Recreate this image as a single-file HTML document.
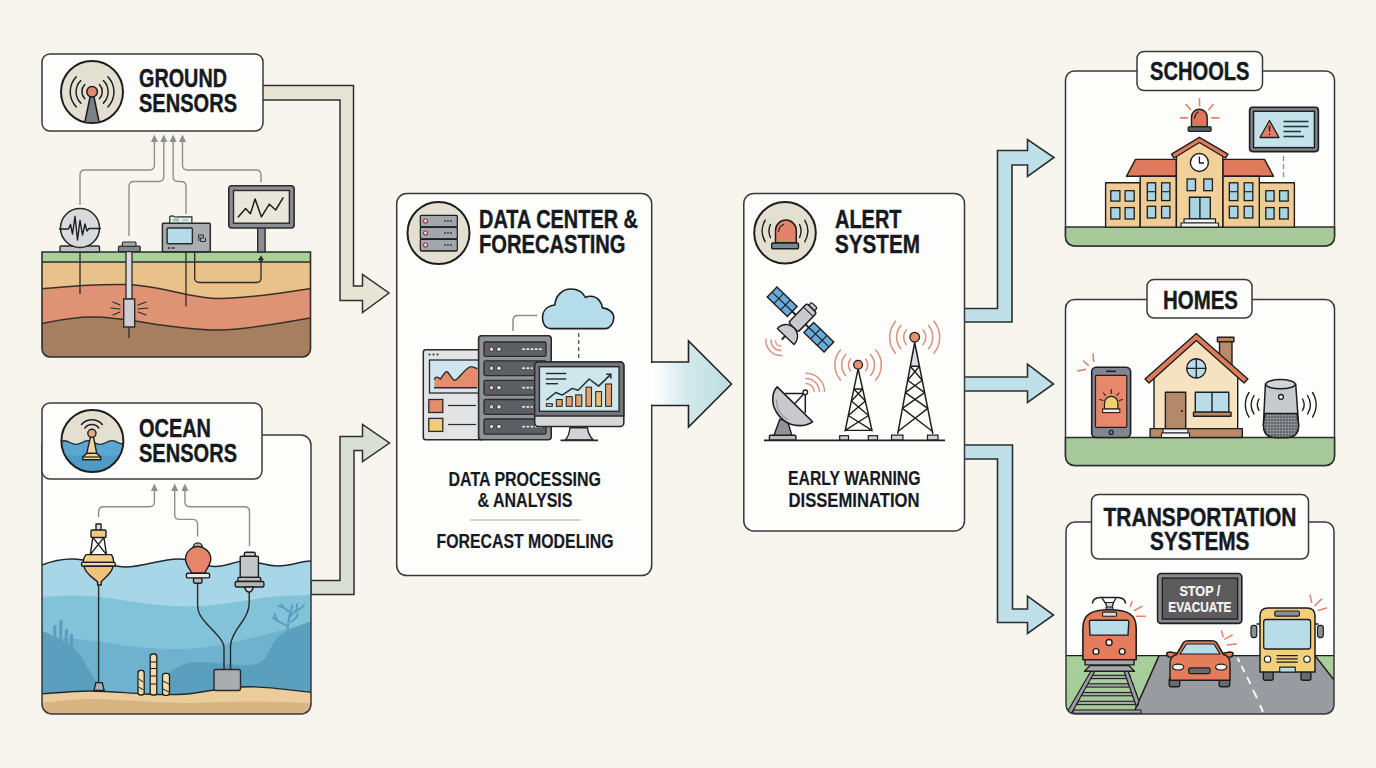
<!DOCTYPE html>
<html><head><meta charset="utf-8">
<style>
html,body{margin:0;padding:0;background:#f8f5ee;width:1376px;height:768px;overflow:hidden}
svg{display:block}
text{font-family:"Liberation Sans",sans-serif;font-weight:bold;fill:#16191d;stroke:#16191d;stroke-width:0.4px;paint-order:stroke}
text.sub{stroke-width:0.15px}
</style></head>
<body>
<svg width="1376" height="768" viewBox="0 0 1376 768">
<rect x="0" y="0" width="1376" height="768" fill="#f8f5ee"/>

<!-- ============ ARROWS ============ -->
<g id="arrows" stroke-linejoin="miter">
  <!-- ground -> data center -->
  <path d="M262,85.5 H353.5 V286 H362.5 V274.5 L389,293 L362.5,312.5 V300.5 H340 V100 H262 Z" fill="#e7e4d6" stroke="#2f2f2f" stroke-width="1.5"/>
  <!-- ocean -> data center -->
  <path d="M311,580.5 H340 V436.5 H362.5 V424.5 L389.5,443 L362.5,461.5 V450.5 H354 V594.5 H311 Z" fill="#d9ded7" stroke="#2f2f2f" stroke-width="1.5"/>
  <!-- alert -> schools -->
  <path d="M964,308.5 H997.5 V150.5 H1027.5 V139.5 L1054,157.5 L1027.5,176.5 V165 H1012 V322 H964 Z" fill="#bfe0e8" stroke="#2a2f33" stroke-width="1.6"/>
  <!-- alert -> homes -->
  <path d="M964,377 H1027.5 V364 L1053.5,384 L1027.5,402.5 V391 H964 Z" fill="#bfe0e8" stroke="#2a2f33" stroke-width="1.6"/>
  <!-- alert -> transport -->
  <path d="M964,445 H1012.5 V609 H1027.5 V596 L1053.5,615 L1027.5,633.5 V622.5 H997.5 V459 H964 Z" fill="#bfe0e8" stroke="#2a2f33" stroke-width="1.6"/>
</g>

<!-- ============ GROUND SENSORS ============ -->
<g id="ground">
  <rect x="42" y="54" width="221" height="77" rx="8" fill="#fdfdfb" stroke="#383838" stroke-width="1.5"/>
  <g id="gicon">
    <defs><clipPath id="cpG"><circle cx="92" cy="92" r="30"/></clipPath></defs>
    <circle cx="92" cy="92" r="31" fill="#e4e0d1"/>
    <path d="M90.3,96 L93.8,96 L99.5,124 L84.5,124 Z" fill="#7c8088" stroke="#1e1e1e" stroke-width="1.6" clip-path="url(#cpG)"/>
    <circle cx="92.1" cy="91.7" r="5.3" fill="#e28a70" stroke="#1e1e1e" stroke-width="1.5"/>
    <g fill="none" stroke="#1e1e1e" stroke-width="1.5" stroke-linecap="round">
      <path d="M84.8,84.6 A10.2,10.2 0 0 0 84.8,98.8"/>
      <path d="M80.8,80.5 A15.9,15.9 0 0 0 80.8,103.1"/>
      <path d="M76.3,76.7 A21.8,21.8 0 0 0 76.3,106.9"/>
      <path d="M99.4,84.6 A10.2,10.2 0 0 1 99.4,98.8"/>
      <path d="M103.4,80.5 A15.9,15.9 0 0 1 103.4,103.1"/>
      <path d="M107.9,76.7 A21.8,21.8 0 0 1 107.9,106.9"/>
    </g>
    <circle cx="92" cy="92" r="31" fill="none" stroke="#1e1e1e" stroke-width="2"/>
  </g>
  <text x="139" y="87" font-size="25.4" textLength="88" lengthAdjust="spacingAndGlyphs">GROUND</text>
  <text x="139" y="112.3" font-size="25.4" textLength="98" lengthAdjust="spacingAndGlyphs">SENSORS</text>

  <!-- ground illustration -->
  <g id="gill">
    <defs><clipPath id="cpGround"><path d="M42,252 H310.5 V349 A8,8 0 0 1 302.5,357 H50 A8,8 0 0 1 42,349 Z"/></clipPath></defs>
    <g clip-path="url(#cpGround)">
      <rect x="40" y="250" width="275" height="110" fill="#a67f60"/>
      <path d="M40,262 H315 V317.5 C 290,321 250,330 218,330 C 170,330 130,317 92,317 C 70,317 55,321 40,324 Z" fill="#de9474"/>
      <path d="M40,262 H315 V288 C 280,293 250,298.5 220,298.5 C 190,298.5 160,285 125,284.5 C 90,284 60,287 40,289 Z" fill="#e9c28b"/>
      <path d="M40,317.5 M 315,317.5 C 290,321 250,330 218,330 C 170,330 130,317 92,317 C 70,317 55,321 40,324" fill="none" stroke="#3a3028" stroke-width="1.5"/>
      <path d="M315,288 C 280,293 250,298.5 220,298.5 C 190,298.5 160,285 125,284.5 C 90,284 60,287 40,289" fill="none" stroke="#3a3028" stroke-width="1.5"/>
      <rect x="40" y="252" width="275" height="10" fill="#a8d09a"/>
      <line x1="40" y1="262" x2="315" y2="262" stroke="#2c2c2c" stroke-width="1.5"/>
    </g>
    <path d="M42,252 H310.5 V349 A8,8 0 0 1 302.5,357 H50 A8,8 0 0 1 42,349 Z" fill="none" stroke="#2c2c2c" stroke-width="1.6"/>
    <!-- underground lines -->
    <g stroke="#2a2a2a" stroke-width="1.3" fill="none">
      <line x1="80" y1="252" x2="80" y2="294"/>
      <line x1="186" y1="251" x2="186" y2="306.5"/>
      <path d="M194.7,251 V278 Q194.7,282.5 199.5,282.5 H256.5 Q261,282.5 261,278 V259"/>
      <line x1="129" y1="327" x2="129" y2="338"/>
    </g>
    <path d="M258,260 L261,255.5 L264,260 Z M259.5,259.5 H262.5 V262 H259.5 Z" fill="#2a2a2a"/>
    <!-- seismometer -->
    <rect x="60" y="246" width="39.5" height="6" rx="1" fill="#bfc2c7" stroke="#2a2a2a" stroke-width="1.4"/>
    <circle cx="80" cy="228" r="19.5" fill="#d9dadd" stroke="#2a2a2a" stroke-width="1.6"/>
    <path d="M59,229 H68.5 L70.5,224.5 L72.5,234 L75,216.5 L77.5,240 L80,220.5 L82.5,235 L85,224 L87,231 L89,228.5 H101" fill="none" stroke="#1e1e1e" stroke-width="1.4" stroke-linejoin="round"/>
    <!-- borehole -->
    <rect x="126" y="251" width="6" height="48" fill="#d9dbde" stroke="#2a2a2a" stroke-width="1.3"/>
    <rect x="123.7" y="299" width="11" height="28" fill="#c9ccd0" stroke="#2a2a2a" stroke-width="1.4"/>
    <rect x="118.5" y="246.2" width="21.7" height="5.4" rx="1" fill="#84888e" stroke="#2a2a2a" stroke-width="1.3"/>
    <rect x="122.3" y="242" width="13.7" height="4.2" rx="1" fill="#a3a7ac" stroke="#2a2a2a" stroke-width="1.1"/>
    <g stroke="#2a2a2a" stroke-width="1.2" stroke-linecap="round">
      <line x1="113" y1="302" x2="120" y2="305"/><line x1="111" y1="308" x2="120" y2="309"/><line x1="113" y1="315" x2="120" y2="312"/>
      <line x1="138" y1="305" x2="146" y2="302"/><line x1="138" y1="309" x2="148" y2="308"/><line x1="138" y1="312" x2="146" y2="315"/>
    </g>
    <!-- data logger -->
    <path d="M169.8,223.2 V216.5 Q172,215.3 174,216.5 Q176,217.5 178,216.8 H191.9 V223.2" fill="#e3efe9" stroke="#2a2a2a" stroke-width="1.2"/>
    <rect x="173" y="218.5" width="6" height="3" fill="#8fc7b8"/>
    <rect x="182" y="218.5" width="6" height="3" fill="#b8d8cc"/>
    <rect x="162.4" y="223.2" width="47.9" height="28.5" rx="1" fill="#a9acb1" stroke="#2a2a2a" stroke-width="1.5"/>
    <rect x="167.1" y="228" width="25.3" height="15.8" rx="1" fill="#b5dbe6" stroke="#2a2a2a" stroke-width="1.4"/>
    <path d="M198.5,235 h5 v3 h-5 z M200.5,238 v3.5 h5 v-3.5 M197.5,240 h3" fill="none" stroke="#2a2a2a" stroke-width="1"/>
    <path d="M168,248 h2.5 M172,248 h2.5" stroke="#2a2a2a" stroke-width="1.3"/>
    <!-- monitor -->
    <rect x="257.7" y="227" width="7.4" height="25" fill="#8b8e93" stroke="#2a2a2a" stroke-width="1.4"/>
    <rect x="228.8" y="185.8" width="65.3" height="42.2" rx="3" fill="#8a8d92" stroke="#2a2a2a" stroke-width="1.6"/>
    <rect x="233.5" y="190.5" width="55.9" height="32.7" fill="#ebe6da" stroke="#2a2a2a" stroke-width="1.4"/>
    <path d="M238.2,216.9 L245.6,208.5 L250.4,213.7 L255.1,199 L261.4,216.9 L269.3,204.2 L275.7,210 L283,197.9" fill="none" stroke="#1e1e1e" stroke-width="1.5" stroke-linejoin="round" stroke-linecap="round"/>
    <!-- grey flow lines -->
    <g fill="none" stroke="#8e8e8a" stroke-width="1.4">
      <path d="M80,205 V175 Q80,170 85,170 H149.4 Q154.4,170 154.4,165 V140"/>
      <path d="M129,236 V186.5 Q129,181.5 134,181.5 H158.8 Q163.8,181.5 163.8,176.5 V140"/>
      <path d="M186,214 V186.5 Q186,181.5 181,181.5 H178.1 Q173.1,181.5 173.1,176.5 V140"/>
      <path d="M261,182.5 V175 Q261,170 256,170 H187.5 Q182.5,170 182.5,165 V140"/>
    </g>
    <g fill="#8e8e8a">
      <path d="M150.9,142 L154.4,134.5 L157.9,142 Z"/>
      <path d="M160.3,142 L163.8,134.5 L167.3,142 Z"/>
      <path d="M169.6,142 L173.1,134.5 L176.6,142 Z"/>
      <path d="M179,142 L182.5,134.5 L186,142 Z"/>
    </g>
  </g>
</g>

<!-- ============ OCEAN SENSORS ============ -->
<g id="ocean">
  <rect x="42" y="435" width="269" height="279" rx="10" fill="#fdfdfb"/>
  <!-- ocean illustration -->
  <g id="oill">
    <defs><clipPath id="cpOcean"><path d="M42,540 H311 V706 A8,8 0 0 1 303,714 H50 A8,8 0 0 1 42,706 Z"/></clipPath></defs>
    <g clip-path="url(#cpOcean)">
      <!-- light water -->
      <path d="M40,565 C 52,561 62,559 72,559 C 90,559 105,566 125,567 C 145,567 160,559 178,559 C 195,559 205,567 215,566.5 C 228,566 235,561 245,561 C 258,561 265,566 278,566 C 292,566 300,561 313,561 V720 H40 Z" fill="#a6d6e7"/>
      <!-- mid water -->
      <path d="M40,597 C 60,596 80,595 95,596.5 C 115,598 150,606 185,606.4 C 215,606.5 245,600 270,597 C 285,595.5 300,595 313,595 V720 H40 Z" fill="#82c3da"/>
      <!-- lower water -->
      <path d="M40,636 C 60,637 90,640 120,645 C 150,649 180,650 200,648 C 225,645 250,638 275,632 C 290,628 300,626 313,624 V720 H40 Z" fill="#6fb2cd"/>
      <!-- hills -->
      <path d="M40,631 C 48,632 56,638 66,643 C 75,648 80,654 84,661 C 88,669 95,680 104,690 L40,700 Z" fill="#5b9fbf"/>
      <path d="M168,673 C 178,666 188,662 197,662 C 210,662 225,664 240,665 C 252,666 260,664 266,657 C 270,650 273,640 282,634 C 292,628 302,624 313,621 V700 H168 Z" fill="#5b9fbf"/>
      <!-- kelp -->
      <g stroke="#5b9fbf" stroke-width="3.3" stroke-linecap="round" fill="none">
        <line x1="54.8" y1="626.5" x2="54.8" y2="645"/>
        <line x1="61" y1="621.5" x2="60.5" y2="648"/>
        <line x1="66.6" y1="630.5" x2="65.6" y2="650"/>
        <line x1="71.5" y1="635.5" x2="71.5" y2="652"/>
      </g>
      <!-- coral right -->
      <g stroke="#5b9fbf" stroke-width="2" stroke-linecap="round" stroke-linejoin="round" fill="none">
        <path d="M287.5,632 C 288,624 289,614 292.5,605.5"/>
        <path d="M289,618 C 291.5,614 295,611 299,609.5 C 301,608 303,607 304,605"/>
        <path d="M296.5,611.5 L297,604.5"/>
        <path d="M290.5,612 C 286,610 283,608 281.5,604.5"/>
        <path d="M282.5,607 L278.5,606"/>
        <path d="M287.5,626 C 283,623 278,622 273,617.5"/>
        <path d="M277.5,621 C 276.5,619 275.5,617 274.5,614"/>
        <path d="M291,622 C 294,620 297,618 298,614"/>
      </g>
      <!-- sand -->
      <path d="M40,694 C 60,692.5 75,691 89,691 C 110,691 125,693 145,694 C 165,695 180,695.5 195,693 C 215,690 235,686.5 252,686.8 C 270,687 290,690 313,692.5 V720 H40 Z" fill="#eacd9b" stroke="#1f2a30" stroke-width="1.4"/>
      <path d="M40,703 C 60,701 75,699 89,699 C 120,699 160,703 185,703 C 210,703 230,701.5 252,701.5 C 275,701.5 295,703 313,703 V720 H40 Z" fill="#d7b484"/>
    </g>
    <!-- pipes -->
    <g stroke="#1e1e1e" stroke-width="1.3">
      <rect x="138" y="670.4" width="6.2" height="24.6" rx="2.5" fill="#efdcaa"/>
      <rect x="150.2" y="654" width="6.6" height="41" rx="2.5" fill="#efdcaa"/>
      <rect x="162.5" y="673.3" width="7" height="22" rx="2.5" fill="#efdcaa"/>
      <path d="M138.5,679 L143.5,682 M138.5,687 L143.5,690 M150.7,662 H156.3 M150.7,668.5 H156.3 M150.7,676 H156.3 M150.7,684 H156.3 M163,681 L169,684 M163,689 L169,692" fill="none" stroke-width="1"/>
    </g>
    <!-- anchors / cables -->
    <path d="M95.8,682.7 L102.3,682.7 L104.2,690.5 L94,690.5 Z" fill="#a9acb1" stroke="#1e1e1e" stroke-width="1.3"/>
    <line x1="98.6" y1="585" x2="98.6" y2="683" stroke="#2a2a2a" stroke-width="1.4"/>
    <rect x="214" y="669.5" width="26.5" height="21" rx="2" fill="#a9acb1" stroke="#2a2a2a" stroke-width="1.4"/>
    <path d="M197.6,583 V605 C 197.6,612 200,616 206,623 C 214,632 224,640 224,648 V669.5" fill="none" stroke="#2a2a2a" stroke-width="1.4"/>
    <path d="M249.2,592 V603 C 249.2,610 247,615 242,622 C 236,630 230.5,638 230.5,646 V669.5" fill="none" stroke="#2a2a2a" stroke-width="1.4"/>
    <!-- surface line -->
    <path d="M42,565 C 52,561 62,559 72,559 C 90,559 105,566 125,567 C 145,567 160,559 178,559 C 195,559 205,567 215,566.5 C 228,566 235,561 245,561 C 258,561 265,566 278,566 C 292,566 300,561 311,561" fill="none" stroke="#1f2a30" stroke-width="1.5"/>
    <!-- yellow buoy -->
    <g stroke="#1e1e1e" stroke-width="1.4" stroke-linejoin="round">
      <rect x="96" y="524" width="5" height="6.5" fill="#e4e4e4"/>
      <path d="M92.8,537.4 L90.3,554.6 M103.9,537.4 L106.5,554.6 M92.8,537.4 L106.5,554.6 M103.9,537.4 L90.3,554.6" fill="none"/>
      <rect x="91" y="530" width="15" height="7.5" rx="1" fill="#f0c980"/>
      <path d="M86,554.6 H111.5 Q113.8,558 113.8,562.4 H83 Q83,558 86,554.6 Z" fill="#f2cf8c"/>
      <rect x="81.5" y="562.4" width="33.8" height="3.8" rx="1.5" fill="#f3d9b0"/>
      <path d="M84,566.2 H113 C 112,574 104,578 101.2,582 V585 H97.6 V582 C 94,578 85,574 84,566.2 Z" fill="#f2c27c"/>
    </g>
    <!-- red buoy -->
    <g stroke="#1e1e1e" stroke-width="1.4" stroke-linejoin="round">
      <path d="M193.2,547.5 A4.6,4.6 0 0 1 202.4,547.5 Z" fill="#b7b9bd"/>
      <path d="M197.8,546.5 C 204,546.5 210.8,552 210.8,559 C 210.8,565 206,569 204.6,573.3 H191.9 C 190,569 185.5,565 185.5,559 C 185.5,552 191.5,546.5 197.8,546.5 Z" fill="#e7856a"/>
      <rect x="193.5" y="577.8" width="8.5" height="5.5" rx="2" fill="#b7b9bd"/>
      <rect x="186.4" y="573.3" width="23.2" height="4.6" rx="1.5" fill="#e9e9e9"/>
    </g>
    <!-- grey sensor -->
    <g stroke="#1e1e1e" stroke-width="1.4" stroke-linejoin="round">
      <rect x="244.3" y="552.3" width="10.9" height="4.5" rx="1.5" fill="#c9cacd"/>
      <rect x="240.2" y="556.2" width="18.2" height="21.2" rx="1" fill="#c5c6c9"/>
      <rect x="237.9" y="577.4" width="22.8" height="4.1" rx="1" fill="#bdbec1"/>
      <rect x="235.2" y="581.5" width="28.7" height="5.5" rx="1.5" fill="#b5b6b9"/>
      <path d="M244.5,587 H253.5 Q252,592 249,592 Q246,592 244.5,587 Z" fill="#d4d5d8"/>
    </g>
    <!-- grey flow lines -->
    <g fill="none" stroke="#8e8e8a" stroke-width="1.4">
      <path d="M98.6,517 V511.7 Q98.6,506.7 103.6,506.7 H149.4 Q154.4,506.7 154.4,501.7 V489"/>
      <path d="M197.6,536.4 V524.4 Q197.6,519.4 192.6,519.4 H179.7 Q174.7,519.4 174.7,514.4 V489"/>
      <path d="M249.5,546 V511.7 Q249.5,506.7 244.5,506.7 H189.9 Q184.9,506.7 184.9,501.7 V489"/>
    </g>
    <g fill="#8e8e8a">
      <path d="M150.9,491 L154.4,483.5 L157.9,491 Z"/>
      <path d="M171.2,491 L174.7,483.5 L178.2,491 Z"/>
      <path d="M181.4,491 L184.9,483.5 L188.4,491 Z"/>
    </g>
  </g>
  <rect x="42" y="435" width="269" height="279" rx="10" fill="none" stroke="#383838" stroke-width="1.5"/>
  <rect x="42" y="403" width="220" height="76" rx="8" fill="#fdfdfb" stroke="#383838" stroke-width="1.5"/>
  <g id="oicon">
    <defs><clipPath id="cpO"><circle cx="92.4" cy="441" r="30.5"/></clipPath></defs>
    <circle cx="92.4" cy="441" r="31" fill="#e4e0d1"/>
    <g clip-path="url(#cpO)">
      <path d="M58,443 C 62,440 66,440 70,442.5 C 74,445 78,445 82,442.5 C 86,440 90,440 94,442.5 C 98,445 102,445 106,442.5 C 110,440 114,440 118,442.5 C 121,444.5 124,444 127,442 V475 H58 Z" fill="#5aa8d2" stroke="#1e2a33" stroke-width="1.4"/>
      <rect x="58" y="455.5" width="70" height="20" fill="#4f9bc7"/>
    </g>
    <g stroke="#1e1e1e" stroke-width="1.4" stroke-linejoin="round">
      <path d="M90.4,437.4 H93.6 L96.7,453.4 H86.7 Z" fill="#f1d39e"/>
      <path d="M86.7,453.4 H96.7 L100.8,457 V459.8 H82.6 V457 Z" fill="#f1d39e"/>
      <line x1="83" y1="457" x2="100.5" y2="457" stroke-width="1.2"/>
      <circle cx="91.9" cy="433.3" r="4.1" fill="#e9a88e"/>
    </g>
    <g fill="none" stroke="#1e1e1e" stroke-width="1.5" stroke-linecap="round">
      <path d="M85,428 A8.6,8.6 0 0 1 98.8,428"/>
      <path d="M81.5,424.5 A13.6,13.6 0 0 1 102.3,424.5"/>
    </g>
    <circle cx="92.4" cy="441" r="31" fill="none" stroke="#1e1e1e" stroke-width="2"/>
  </g>
  <text x="139" y="436.5" font-size="25.4" textLength="72" lengthAdjust="spacingAndGlyphs">OCEAN</text>
  <text x="139" y="461.8" font-size="25.4" textLength="98" lengthAdjust="spacingAndGlyphs">SENSORS</text>
</g>

<!-- ============ DATA CENTER ============ -->
<g id="dc">
  <rect x="396.7" y="193.6" width="255" height="382" rx="10" fill="#fdfdfc" stroke="#383838" stroke-width="1.5"/>
  <g id="dcicon">
    <circle cx="438.5" cy="233" r="31" fill="#e4e0d1" stroke="#1e1e1e" stroke-width="2"/>
    <rect x="420" y="215" width="37.5" height="36.5" rx="1.5" fill="#2e3236"/>
    <g fill="#a2a7ad" stroke="#1e1e1e" stroke-width="1.2">
      <rect x="420.3" y="215.3" width="37" height="11.5" rx="1"/>
      <rect x="420.3" y="227.3" width="37" height="11.5" rx="1"/>
      <rect x="420.3" y="239.3" width="37" height="11.5" rx="1"/>
    </g>
    <g fill="#f3e5e6" stroke="#9a3048" stroke-width="1.1">
      <circle cx="425.5" cy="221" r="2"/><circle cx="425.5" cy="233" r="2"/><circle cx="425.5" cy="245" r="2"/>
    </g>
    <g fill="#2e3236">
      <circle cx="445" cy="221" r="0.9"/><circle cx="448" cy="221" r="0.9"/><circle cx="451" cy="221" r="0.9"/>
      <circle cx="445" cy="233" r="0.9"/><circle cx="448" cy="233" r="0.9"/><circle cx="451" cy="233" r="0.9"/>
      <circle cx="445" cy="245" r="0.9"/><circle cx="448" cy="245" r="0.9"/><circle cx="451" cy="245" r="0.9"/>
    </g>
  </g>
  <g id="dcill">
    <!-- connector lines -->
    <path d="M513,331 V320.5 Q513,315.5 518,315.5 H537.5" fill="none" stroke="#8f8f8f" stroke-width="1.5"/>
    <line x1="578.7" y1="333" x2="578.7" y2="358" stroke="#555" stroke-width="1.3" stroke-dasharray="4,3"/>
    <!-- cloud -->
    <path d="M551,328.65 C 545,328.65 542.5,323 542.5,317.8 C 542.5,311 547,306 554.8,305 C 555.5,296 562,289 570.9,289 C 578,289 583,292.5 585.5,297.5 C 587,296.5 589,296.2 590.7,296.2 C 597,296.2 601.5,301.5 602.5,307.9 C 609,308.5 613.8,312.5 613.8,317.8 C 613.8,324 609,328.65 605.8,328.65 Z" fill="#b5dcea" stroke="#1e1e1e" stroke-width="1.6" stroke-linejoin="round"/>
    <!-- dashboard -->
    <rect x="423.3" y="349.7" width="60" height="90" rx="2.5" fill="#e2e3e5" stroke="#2a2a2a" stroke-width="1.5"/>
    <g fill="#2a2a2a"><circle cx="429.5" cy="354.5" r="1"/><circle cx="433.5" cy="354.5" r="1"/><circle cx="437.5" cy="354.5" r="1"/></g>
    <rect x="429.5" y="360" width="50" height="33" fill="#cfe6ee" stroke="#2a2a2a" stroke-width="1.3"/>
    <path d="M434.4,387.8 V379.6 C 434.6,377 437,376.8 438.5,377.6 C 439.5,378.2 440,379 440.5,379 C 442,377 444.5,371.7 446.7,371.7 C 449,371.7 452,380.3 454.9,380.3 C 458,380.3 466,366.6 471.3,366.6 C 473,366.6 474.5,368 477.5,368.7 V387.8 Z" fill="#e48c6c"/><path d="M434.4,379.6 C 434.6,377 437,376.8 438.5,377.6 C 439.5,378.2 440,379 440.5,379 C 442,377 444.5,371.7 446.7,371.7 C 449,371.7 452,380.3 454.9,380.3 C 458,380.3 466,366.6 471.3,366.6 C 473,366.6 474.5,368 477.5,368.7" fill="none" stroke="#2a2a2a" stroke-width="1.4" stroke-linejoin="round"/><line x1="434" y1="387.8" x2="477" y2="387.8" stroke="#2a2a2a" stroke-width="1.6"/>
    <rect x="428.8" y="399.5" width="14" height="13" fill="#e48c6c" stroke="#2a2a2a" stroke-width="1.3"/>
    <rect x="428.8" y="418.4" width="14" height="13" fill="#f0cd78" stroke="#2a2a2a" stroke-width="1.3"/>
    <line x1="448" y1="405.5" x2="476" y2="405.5" stroke="#2a2a2a" stroke-width="1.2"/>
    <line x1="448" y1="424.5" x2="476" y2="424.5" stroke="#2a2a2a" stroke-width="1.2"/>
    <!-- server tower -->
    <rect x="478.6" y="335.8" width="72.6" height="104" rx="3" fill="#8f9297" stroke="#2a2a2a" stroke-width="1.6"/>
    <g fill="#5c6065" stroke="#2a2a2a" stroke-width="1.3">
      <rect x="484" y="342" width="62" height="14.4" rx="1.5"/>
      <rect x="484" y="360.8" width="62" height="14.8" rx="1.5"/>
      <rect x="484" y="380.3" width="62" height="14.8" rx="1.5"/>
      <rect x="484" y="399.5" width="62" height="14.8" rx="1.5"/>
      <rect x="484" y="419" width="62" height="15.2" rx="1.5"/>
    </g>
    <g fill="#e6c9bf" stroke="#2a2a2a" stroke-width="0.9">
      <circle cx="491.5" cy="349.2" r="2.3"/><circle cx="499" cy="349.2" r="2.3" fill="#efe9cf"/>
      <circle cx="491.5" cy="368.2" r="2.3"/><circle cx="499" cy="368.2" r="2.3" fill="#efe9cf"/>
      <circle cx="491.5" cy="387.7" r="2.3"/><circle cx="499" cy="387.7" r="2.3" fill="#efe9cf"/>
      <circle cx="491.5" cy="406.9" r="2.3"/><circle cx="499" cy="406.9" r="2.3" fill="#efe9cf"/>
      <circle cx="491.5" cy="426.6" r="2.3"/><circle cx="499" cy="426.6" r="2.3" fill="#efe9cf"/>
    </g>
    <g stroke="#e8e8e8" stroke-width="1.8" stroke-linecap="round" stroke-dasharray="1.2,3">
      <line x1="523" y1="349.2" x2="542" y2="349.2"/>
      <line x1="523" y1="368.2" x2="532" y2="368.2"/>
      <line x1="523" y1="387.7" x2="532" y2="387.7"/>
      <line x1="523" y1="406.9" x2="532" y2="406.9"/>
      <line x1="523" y1="426.6" x2="542" y2="426.6"/>
    </g>
    <!-- monitor -->
    <path d="M569.9,427.7 H587.4 C 588,433 590,437 593.3,440 H565.2 C 568,437 569.5,433 569.9,427.7 Z" fill="#d2d3d6" stroke="#2a2a2a" stroke-width="1.4" stroke-linejoin="round"/>
    <line x1="560.5" y1="440.3" x2="598" y2="440.3" stroke="#2a2a2a" stroke-width="1.7"/>
    <rect x="534.7" y="362" width="89.1" height="64.5" rx="3.5" fill="#d7d8da" stroke="#2a2a2a" stroke-width="1.6"/>
    <path d="M534.7,416 V365.5 A3.5,3.5 0 0 1 538.2,362 H620.3 A3.5,3.5 0 0 1 623.8,365.5 V416 Z" fill="#73777c" stroke="#2a2a2a" stroke-width="1.4"/>
    <rect x="539.4" y="366.7" width="79.7" height="44.6" fill="#cde7ed" stroke="#2a2a2a" stroke-width="1.4"/>
    <g stroke="#2a2a2a" stroke-width="1.4"><line x1="545.8" y1="373.5" x2="566.3" y2="373.5"/><line x1="545.8" y1="379" x2="566.3" y2="379"/><line x1="545.8" y1="383.7" x2="558" y2="383.7"/></g>
    <g fill="#e8a16c" stroke="#2a2a2a" stroke-width="1.1">
      <rect x="546.4" y="403.7" width="5.9" height="2.6" fill="#e8d2c0"/>
      <rect x="556.4" y="399.5" width="5.8" height="6.8"/>
      <rect x="566.3" y="396.6" width="5.9" height="9.7"/>
      <rect x="575.7" y="394.9" width="6.1" height="11.4"/>
      <rect x="586" y="387.2" width="5.5" height="19.1"/>
      <rect x="595.7" y="391.6" width="5.8" height="14.7" fill="#ecc079"/>
      <rect x="605.6" y="384" width="5.9" height="22.3"/>
    </g>
    <path d="M546.4,400.1 L555.8,392.5 L562.2,395.1 L572.2,388.4 L578.1,390.2 L589.2,379 L598.6,386.1 L610.3,374.9" fill="none" stroke="#2a2a2a" stroke-width="1.5" stroke-linejoin="round"/>
    <path d="M606.2,374.3 H610.9 V378.6" fill="none" stroke="#2a2a2a" stroke-width="1.5"/>
  </g>
  <text x="479" y="228" font-size="25.4" textLength="159" lengthAdjust="spacingAndGlyphs">DATA CENTER &amp;</text>
  <text x="479" y="252.5" font-size="25.4" textLength="146.5" lengthAdjust="spacingAndGlyphs">FORECASTING</text>
  <text class="sub" x="448.5" y="485.5" font-size="20" textLength="152.5" lengthAdjust="spacingAndGlyphs">DATA PROCESSING</text>
  <text class="sub" x="477.5" y="506.5" font-size="20" textLength="95" lengthAdjust="spacingAndGlyphs">&amp; ANALYSIS</text>
  <line x1="469.5" y1="520" x2="581" y2="520" stroke="#c4c4c2" stroke-width="1.3"/>
  <text class="sub" x="436.5" y="548" font-size="20" textLength="177" lengthAdjust="spacingAndGlyphs">FORECAST MODELING</text>
</g>

  <!-- data center -> alert -->
  <defs>
    <linearGradient id="gDC" x1="651" y1="0" x2="731" y2="0" gradientUnits="userSpaceOnUse">
      <stop offset="0" stop-color="#ffffff"/>
      <stop offset="0.12" stop-color="#f6fbfb"/>
      <stop offset="0.45" stop-color="#d3e9eb"/>
      <stop offset="1" stop-color="#bcdde1"/>
    </linearGradient>
  </defs>
  <path d="M650,362.8 H688.5 V341 L731.5,384 L688.5,427 V404.8 H650 Z" fill="url(#gDC)" stroke="none"/>
  <path d="M651,362 H688.5 V341 L731.5,384 L688.5,427 V405.5 H651" fill="none" stroke="#1f2326" stroke-width="1.6"/>
<!-- ============ ALERT ============ -->
<g id="alert">
  <rect x="743.8" y="193.4" width="220.7" height="337.6" rx="10" fill="#fdfdfc" stroke="#383838" stroke-width="1.5"/>
  <g id="alicon">
    <circle cx="785" cy="232.8" r="30.8" fill="#e4e0d1" stroke="#1e1e1e" stroke-width="2"/>
    <path d="M775.5,242.7 V230.5 A10.4,10.4 0 0 1 796.3,230.5 V242.7 Z" fill="#e2826a" stroke="#1e1e1e" stroke-width="1.5"/>
    <path d="M778.5,231.5 Q779.5,226 783.5,224.5" fill="none" stroke="#1e1e1e" stroke-width="1.1" stroke-linecap="round"/>
    <rect x="771.7" y="243" width="26.8" height="5.7" rx="1" fill="#7d8693" stroke="#1e1e1e" stroke-width="1.4"/>
    <g fill="none" stroke="#1e1e1e" stroke-width="1.4" stroke-linecap="round">
      <path d="M770.4,224.5 A16,16 0 0 0 770.4,237.5"/>
      <path d="M765.2,220.2 A21.5,21.5 0 0 0 765.2,241.8"/>
      <path d="M799.6,224.5 A16,16 0 0 1 799.6,237.5"/>
      <path d="M804.8,220.2 A21.5,21.5 0 0 1 804.8,241.8"/>
    </g>
  </g>
  <g id="alill">
    <!-- satellite -->
    <g transform="translate(800.5,319.5) rotate(44)">
      <g fill="#6aaad8" stroke="#1e1e1e" stroke-width="1.4">
        <rect x="-39.5" y="-7" width="28" height="14"/>
        <rect x="11.5" y="-7" width="28" height="14"/>
      </g>
      <g stroke="#1e1e1e" stroke-width="1.1" fill="none">
        <path d="M-30.2,-7 V7 M-20.9,-7 V7 M-39.5,0 H-11.5"/>
        <path d="M20.8,-7 V7 M30.1,-7 V7 M11.5,0 H39.5"/>
        <path d="M-11.5,0 H-6.5 M7,0 H11.5" stroke-width="2"/>
      </g>
      <rect x="-4" y="-20" width="8" height="5" rx="1.5" fill="#c9cacd" stroke="#1e1e1e" stroke-width="1.3"/>
      <rect x="-6.6" y="-16" width="13.6" height="26.5" rx="2.5" fill="#c9cacd" stroke="#1e1e1e" stroke-width="1.5"/>
      <line x1="-6" y1="-11" x2="6.5" y2="-11" stroke="#1e1e1e" stroke-width="1"/>
      <line x1="0.5" y1="22" x2="0.5" y2="27.5" stroke="#1e1e1e" stroke-width="2"/>
      <path d="M-10.5,22.5 C -10,13 -3,10.5 1,10.5 C 5,10.5 12.5,13 12.6,22.5 Z" fill="#cacbce" stroke="#1e1e1e" stroke-width="1.4" stroke-linejoin="round"/>
    </g>
    <g fill="none" stroke="#d9907e" stroke-width="1.4" stroke-linecap="round">
      <path d="M775.5,341 A5.2,5.2 0 0 0 780.5,346"/>
      <path d="M771,340 A10,10 0 0 0 781,350.5"/>
      <path d="M766,339 A15,15 0 0 0 782,355.5"/>
    </g>
    <!-- dish antenna -->
    <rect x="769.4" y="435.3" width="26.5" height="5" rx="1" fill="#b9bcc0" stroke="#1e1e1e" stroke-width="1.4"/>
    <path d="M779.8,419.2 L787.6,421.2 L791.8,435.3 H774 Z" fill="#8f9297" stroke="#1e1e1e" stroke-width="1.4" stroke-linejoin="round"/>
    <g fill="none" stroke="#1e1e1e" stroke-width="1.5">
      <path d="M785,393.6 H805 M805.3,392.3 V413 M805.3,392.3 L794.4,404"/>
    </g>
    <path d="M777.2,386.9 L812.6,421.8 C 806,426 798,426.5 790,424 C 780,420 771,408 773,396 C 773.5,392 775,389 777.2,386.9 Z" fill="#c8c9cc" stroke="#1e1e1e" stroke-width="1.6" stroke-linejoin="round"/>
    <path d="M776.5,400 C 776.5,410 781,416 788,419.5" fill="none" stroke="#9a9ca0" stroke-width="1.2" stroke-linecap="round"/>
    <circle cx="805.3" cy="392.3" r="2.3" fill="#fff" stroke="#1e1e1e" stroke-width="1.3"/>
    <g fill="none" stroke="#d9907e" stroke-width="1.4" stroke-linecap="round">
      <path d="M806,383.5 A8.5,8.5 0 0 1 814.2,391.5"/>
      <path d="M806,378.5 A13.3,13.3 0 0 1 819.3,391.5"/>
      <path d="M806,373.3 A18.5,18.5 0 0 1 824.5,391.5"/>
    </g>
    <!-- small tower -->
    <g fill="none" stroke="#1e1e1e" stroke-width="1.5" stroke-linejoin="round">
      <path d="M858.1,368.9 L845,431.3 M858.1,368.9 L872.2,431.3"/>
      <path d="M853.9,389.0 L865.4,401.0 M862.6,389.0 L851.4,401.0 M851.4,401.0 L868.6,415.5 M865.4,401.0 L848.3,415.5 M848.3,415.5 L872.0,430.4 M868.6,415.5 L845.2,430.4 M853.9,389.0 H862.6 M845.2,430.4 H872.0" stroke-width="1.4"/>
    </g>
    <g fill="#d0d2d5" stroke="#1e1e1e" stroke-width="1.2">
      <rect x="839.7" y="435.7" width="8.8" height="4.5"/>
      <rect x="868.3" y="435.7" width="9.2" height="4.5"/>
    </g>
    <circle cx="858.1" cy="364.8" r="4.4" fill="#e8906e" stroke="#1e1e1e" stroke-width="1.3"/>
    <!-- tall tower -->
    <path d="M914.7,342.5 L910.3,366.2 H919.4 Z" fill="#dcdde0"/>
    <g fill="none" stroke="#1e1e1e" stroke-width="1.5" stroke-linejoin="round">
      <path d="M914.7,342.5 L897.7,433.9 M914.7,342.5 L932.8,433.9"/>
      <path d="M910.3,366.2 L922.2,380.3 M919.4,366.2 L907.7,380.3 M907.7,380.3 L924.6,392.6 M922.2,380.3 L905.4,392.6 M905.4,392.6 L927.8,408.4 M924.6,392.6 L902.4,408.4 M902.4,408.4 L932.3,431.3 M927.8,408.4 L898.2,431.3 M910.3,366.2 H919.4" stroke-width="1.4"/>
    </g>
    <g fill="#d0d2d5" stroke="#1e1e1e" stroke-width="1.2">
      <rect x="891.5" y="435.1" width="11.5" height="5"/>
      <rect x="927.5" y="435.1" width="10.5" height="5"/>
    </g>
    <circle cx="914.7" cy="337.2" r="4.8" fill="#e8906e" stroke="#1e1e1e" stroke-width="1.3"/>
    <g fill="none" stroke="#d9907e" stroke-width="1.5" stroke-linecap="round">
      <path d="M850.6,359 A9.6,9.6 0 0 0 850.6,371"/>
      <path d="M845.7,354.5 A15.8,15.8 0 0 0 845.7,375.5"/>
      <path d="M840.5,350 A22.8,22.8 0 0 0 840.5,380"/>
      <path d="M865.6,359 A9.6,9.6 0 0 1 865.6,371"/>
      <path d="M870.5,354.5 A15.8,15.8 0 0 1 870.5,375.5"/>
      <path d="M875.7,350 A22.8,22.8 0 0 1 875.7,380"/>
      <path d="M906.3,330 A11,11 0 0 0 906.3,344.4"/>
      <path d="M900.9,325.6 A18,18 0 0 0 900.9,348.8"/>
      <path d="M895.5,321.2 A25,25 0 0 0 895.5,353.2"/>
      <path d="M923.1,330 A11,11 0 0 1 923.1,344.4"/>
      <path d="M928.5,325.6 A18,18 0 0 1 928.5,348.8"/>
      <path d="M933.9,321.2 A25,25 0 0 1 933.9,353.2"/>
    </g>
  </g>
  <text x="835" y="228" font-size="25.4" textLength="66.5" lengthAdjust="spacingAndGlyphs">ALERT</text>
  <text x="835" y="253" font-size="25.4" textLength="85" lengthAdjust="spacingAndGlyphs">SYSTEM</text>
  <line x1="764" y1="440.4" x2="945" y2="440.4" stroke="#1e1e1e" stroke-width="1.8"/>
  <text class="sub" x="788" y="485.2" font-size="20" textLength="132.5" lengthAdjust="spacingAndGlyphs">EARLY WARNING</text>
  <text class="sub" x="788.5" y="506.5" font-size="20" textLength="131" lengthAdjust="spacingAndGlyphs">DISSEMINATION</text>
</g>

<!-- ============ SCHOOLS ============ -->
<g id="schools">
  <rect x="1065.5" y="71" width="269" height="175" rx="9" fill="#fdfdfc" stroke="#383838" stroke-width="1.5"/>
  <path d="M1065.5,227 H1334.5 V237 A9,9 0 0 1 1325.5,246 H1074.5 A9,9 0 0 1 1065.5,237 Z" fill="#a8ca9a" stroke="#2a2f2c" stroke-width="1.5"/>

  <g id="schill">
    <!-- siren -->
    <g stroke="#e0836c" stroke-width="1.6" stroke-linecap="round">
      <line x1="1199.5" y1="98.7" x2="1199.5" y2="105.5"/>
      <line x1="1186.1" y1="104.5" x2="1190.4" y2="109.6"/>
      <line x1="1213.2" y1="104.5" x2="1208.9" y2="109.6"/>
      <line x1="1180.4" y1="117.9" x2="1187.4" y2="117.9"/>
      <line x1="1211.8" y1="117.9" x2="1218.8" y2="117.9"/>
    </g>
    <path d="M1191.5,126.8 V117 A7.85,7.85 0 0 1 1207.2,117 V126.8 Z" fill="#e0755a" stroke="#1e1e1e" stroke-width="1.4"/>
    <path d="M1194.5,118.5 Q1195,113.5 1198.5,112" fill="none" stroke="#1e1e1e" stroke-width="1.1" stroke-linecap="round"/>
    <rect x="1188.2" y="126.8" width="22.9" height="4.5" rx="1" fill="#5c6066" stroke="#1e1e1e" stroke-width="1.3"/>
    <!-- warning screen -->
    <line x1="1283.5" y1="156" x2="1283.5" y2="178" stroke="#8a8a8a" stroke-width="1.3" stroke-dasharray="5,3"/>
    <rect x="1249.6" y="107.3" width="68.8" height="44.3" rx="3" fill="#7b8187" stroke="#1e1e1e" stroke-width="1.6"/>
    <rect x="1253.6" y="111.3" width="60.8" height="36.3" fill="#c3e2ea" stroke="#1e1e1e" stroke-width="1.4"/>
    <path d="M1269.5,120.5 L1279,137.5 H1260 Z" fill="#e0806a" stroke="#1e1e1e" stroke-width="1.3" stroke-linejoin="round"/>
    <line x1="1269.5" y1="125.5" x2="1269.5" y2="131.5" stroke="#1e1e1e" stroke-width="1.5"/>
    <circle cx="1269.5" cy="134.3" r="0.9" fill="#1e1e1e"/>
    <g stroke="#1f3a44" stroke-width="1.6"><line x1="1283.5" y1="121.5" x2="1308.5" y2="121.5"/><line x1="1283.5" y1="126.5" x2="1308.5" y2="126.5"/><line x1="1283.5" y1="131.5" x2="1301" y2="131.5"/><line x1="1283.5" y1="136.5" x2="1304" y2="136.5"/></g>
    <!-- building -->
    <g stroke="#1e1e1e" stroke-width="1.4" stroke-linejoin="round">
      <rect x="1105.6" y="182.8" width="34.6" height="44.3" fill="#f0cc95"/>
      <rect x="1259.3" y="182.8" width="35.1" height="44.3" fill="#f0cc95"/>
      <path d="M1126.4,176.3 L1135.5,159.4 H1176.4 V176.3 Z" fill="#e07a5d"/>
      <path d="M1273.6,176.3 L1264.5,159.4 H1222.8 V176.3 Z" fill="#e07a5d"/>
      <rect x="1140.2" y="176.3" width="36.2" height="50.8" fill="#f0cc95"/>
      <rect x="1222.8" y="176.3" width="36.5" height="50.8" fill="#f0cc95"/>
      <path d="M1176.4,227.1 V152 L1199.4,141 L1222.8,152 V227.1 Z" fill="#f2d09c"/>
      <path d="M1171.5,154.2 L1199.4,137.3 L1228,154.2 L1225.5,158 L1199.4,142.5 L1174,158 Z" fill="#e07a5d"/>
      <circle cx="1199.4" cy="162.5" r="9" fill="#ffffff"/>
      <path d="M1199.4,156.5 V163 H1204" fill="none" stroke-width="1.3"/>
      <rect x="1189.5" y="197.2" width="20.8" height="21.6" fill="#a9d4e3"/>
      <line x1="1199.9" y1="197.2" x2="1199.9" y2="218.8"/>
      <rect x="1184" y="218.8" width="31.5" height="4.2" fill="#f3f3f3" stroke-width="1.2"/>
      <rect x="1181" y="223" width="37.5" height="4.1" fill="#f3f3f3" stroke-width="1.2"/>
    </g>
    <g fill="#a9d4e3" stroke="#1e1e1e" stroke-width="1.3">
      <rect x="1110.8" y="190.7" width="9.1" height="10.4"/><rect x="1125.1" y="190.7" width="9.1" height="10.4"/>
      <rect x="1110.8" y="207.6" width="9.1" height="11.4"/><rect x="1125.1" y="207.6" width="9.1" height="11.4"/>
      <rect x="1265.8" y="190.7" width="8.3" height="10.4"/><rect x="1279.6" y="190.7" width="8.6" height="10.4"/>
      <rect x="1265.8" y="207.6" width="8.3" height="11.4"/><rect x="1279.6" y="207.6" width="8.6" height="11.4"/>
      <rect x="1147.3" y="182.8" width="8.3" height="17.8"/><rect x="1161.6" y="182.8" width="8.3" height="17.8"/>
      <rect x="1147.3" y="206.3" width="8.3" height="11.7"/><rect x="1161.6" y="206.3" width="8.3" height="11.7"/>
      <rect x="1229.3" y="182.8" width="8.6" height="17.8"/><rect x="1244.2" y="182.8" width="8.6" height="17.8"/>
      <rect x="1229.3" y="206.3" width="8.6" height="11.7"/><rect x="1244.2" y="206.3" width="8.6" height="11.7"/>
      <rect x="1187.1" y="179" width="8.4" height="11.7"/><rect x="1203.8" y="179" width="8.6" height="11.7"/>
    </g>
    <g stroke="#1e1e1e" stroke-width="1.1">
      <line x1="1147.3" y1="191.7" x2="1155.6" y2="191.7"/><line x1="1161.6" y1="191.7" x2="1169.9" y2="191.7"/>
      <line x1="1229.3" y1="191.7" x2="1237.9" y2="191.7"/><line x1="1244.2" y1="191.7" x2="1252.8" y2="191.7"/>
    </g>
  </g>
  <rect x="1137" y="51.5" width="125.5" height="39" rx="7" fill="#fdfdfc" stroke="#383838" stroke-width="1.5"/>
  <text x="1150" y="79.9" font-size="26" textLength="99.5" lengthAdjust="spacingAndGlyphs">SCHOOLS</text>
</g>

<!-- ============ HOMES ============ -->
<g id="homes">
  <rect x="1065.5" y="299.5" width="269" height="166" rx="9" fill="#fdfdfc" stroke="#383838" stroke-width="1.5"/>
  <path d="M1065.5,437.5 H1334.5 V456.5 A9,9 0 0 1 1325.5,465.5 H1074.5 A9,9 0 0 1 1065.5,456.5 Z" fill="#a8ca9a" stroke="#2a2f2c" stroke-width="1.5"/>

  <g id="homeill">
    <!-- phone -->
    <g stroke="#e0836c" stroke-width="1.6" stroke-linecap="round">
      <line x1="1077.8" y1="371" x2="1085.4" y2="369.4"/>
      <line x1="1083.5" y1="361" x2="1088.4" y2="365.3"/>
      <line x1="1093" y1="354" x2="1093.8" y2="361.3"/>
    </g>
    <rect x="1091.7" y="367.2" width="38.9" height="70.3" rx="4.5" fill="#7f8690" stroke="#1e1e1e" stroke-width="1.6"/>
    <rect x="1095.5" y="375.3" width="31.3" height="52" rx="1" fill="#e8886a" stroke="#1e1e1e" stroke-width="1.2"/>
    <line x1="1106" y1="371.3" x2="1116" y2="371.3" stroke="#1e1e1e" stroke-width="1.5"/>
    <circle cx="1111.2" cy="432.4" r="2" fill="none" stroke="#1e1e1e" stroke-width="1.2"/>
    <path d="M1104.5,409 V403 A6.7,6.7 0 0 1 1117.9,403 V409 Z" fill="#f3cf70" stroke="#1e1e1e" stroke-width="1.2"/>
    <rect x="1102.6" y="409" width="17.2" height="3.6" fill="#f2eee6" stroke="#1e1e1e" stroke-width="1.1"/>
    <g stroke="#1e1e1e" stroke-width="1.1" stroke-linecap="round">
      <line x1="1111.2" y1="389.5" x2="1111.2" y2="393.5"/>
      <line x1="1103.5" y1="393" x2="1105.5" y2="395.5"/>
      <line x1="1118.9" y1="393" x2="1116.9" y2="395.5"/>
      <line x1="1100" y1="399.5" x2="1103" y2="400.5"/>
      <line x1="1122.4" y1="399.5" x2="1119.4" y2="400.5"/>
    </g>
    <!-- house -->
    <g stroke="#1e1e1e" stroke-width="1.4" stroke-linejoin="round">
      <path d="M1219.5,358.8 V341 H1232 V371 Z" fill="#b98a68"/>
      <rect x="1217.4" y="337.2" width="16.5" height="4.5" fill="#b98a68"/>
      <path d="M1154,428.6 V376 L1196.3,338 L1237.7,376 V428.6 Z" fill="#f4e2c0"/>
      <path d="M1145,379 L1196.3,333.4 L1247.9,379 L1244,383 L1196.3,340.5 L1149,383 Z" fill="#e07a5d"/>
      <circle cx="1196.3" cy="368.4" r="9.6" fill="#b8dcea"/>
      <path d="M1186.7,368.4 H1205.9 M1196.3,358.8 V378" fill="none" stroke-width="1.3"/>
      <rect x="1165.4" y="392.3" width="20.3" height="36.3" fill="#b3896a"/>
      <rect x="1195.3" y="392.3" width="33.5" height="19.8" fill="#b8dcea"/>
      <line x1="1212" y1="392.3" x2="1212" y2="412.1"/>
      <rect x="1193.5" y="412.1" width="37.5" height="4.2" fill="#b98a68"/>
      <rect x="1150.1" y="428.6" width="92.2" height="8.9" fill="#b98a68"/>
      <rect x="1163" y="429" width="25" height="4" fill="#f3f3f3" stroke-width="1.1"/>
      <rect x="1161.5" y="433" width="28" height="4.5" fill="#f3f3f3" stroke-width="1.1"/>
    </g>
    <circle cx="1182" cy="411" r="1.1" fill="#1e1e1e"/>
    <!-- speaker -->
    <path d="M1265.4,384.2 L1263.4,424.7 Q1263.4,437.4 1275,437.4 H1287 Q1298.6,437.4 1298.6,424.7 L1295.7,384.2 Z" fill="#c9cacd" stroke="#1e1e1e" stroke-width="1.5"/>
    <defs>
      <pattern id="mesh" x="0" y="0" width="3" height="3" patternUnits="userSpaceOnUse">
        <rect width="3" height="3" fill="#696c71"/><circle cx="1.5" cy="1.5" r="0.85" fill="#aeb0b4"/>
      </pattern>
    </defs>
    <path d="M1264.8,413.5 H1297 L1298.6,424.7 Q1298.6,437.4 1287,437.4 H1275 Q1263.4,437.4 1263.4,424.7 Z" fill="url(#mesh)" stroke="#1e1e1e" stroke-width="1.5"/>
    <ellipse cx="1280.5" cy="384.2" rx="14.6" ry="4.6" fill="#d4d5d8" stroke="#1e1e1e" stroke-width="1.5"/>
    <circle cx="1281" cy="396.9" r="2.4" fill="#f5f5f5" stroke="#1e1e1e" stroke-width="1.3"/>
    <g fill="none" stroke="#1e1e1e" stroke-width="1.4" stroke-linecap="round">
      <path d="M1259,399 A11.5,11.5 0 0 0 1259,410.5"/>
      <path d="M1254,395.5 A17.5,17.5 0 0 0 1254,414"/>
      <path d="M1249,392.5 A22.5,22.5 0 0 0 1249,417"/>
      <path d="M1302.5,399 A11.5,11.5 0 0 1 1302.5,410.5"/>
      <path d="M1307.5,395.5 A17.5,17.5 0 0 1 1307.5,414"/>
      <path d="M1312.5,392.5 A22.5,22.5 0 0 1 1312.5,417"/>
    </g>
  </g>
  <rect x="1147" y="279.5" width="105" height="38.5" rx="7" fill="#fdfdfc" stroke="#383838" stroke-width="1.5"/>
  <text x="1163" y="308.5" font-size="26" textLength="75" lengthAdjust="spacingAndGlyphs">HOMES</text>
</g>

<!-- ============ TRANSPORT ============ -->
<g id="transport">
  <rect x="1066" y="522" width="268" height="192" rx="9" fill="#fdfdfc"/>

  <g id="transill">
    <defs><clipPath id="cpT"><path d="M1066,600 H1334 V705 A9,9 0 0 1 1325,714 H1075 A9,9 0 0 1 1066,705 Z"/></clipPath>
      <linearGradient id="gGreen" x1="0" y1="655" x2="0" y2="714" gradientUnits="userSpaceOnUse">
        <stop offset="0" stop-color="#a9d09b"/><stop offset="1" stop-color="#a4ca96"/>
      </linearGradient>
    </defs>
    <g clip-path="url(#cpT)">
      <rect x="1060" y="655.6" width="280" height="65" fill="url(#gGreen)"/>
      <path d="M1159.1,655.6 H1315 L1340,687.7 V720 H1130.5 Z" fill="#989ca1"/>
      <path d="M1159.1,655.6 L1130.5,720 M1315,655.6 L1340,687.7" fill="none" stroke="#1e1e1e" stroke-width="1.5"/>
      <line x1="1060" y1="655.6" x2="1340" y2="655.6" stroke="#1e1e1e" stroke-width="1.4"/>
      <!-- ties -->
      <g fill="#a4a8ad" stroke="#1e1e1e" stroke-width="1.1">
        <rect x="1089" y="675.3" width="41" height="3.3"/>
        <rect x="1085.5" y="683.8" width="47.5" height="3.3"/>
        <rect x="1082" y="692.5" width="54" height="3.3"/>
        <rect x="1077.5" y="701.3" width="61" height="3.3"/>
        <rect x="1073" y="710" width="68" height="3.3"/>
      </g>
      <!-- rails -->
      <g fill="#9a9ea3" stroke="#1e1e1e" stroke-width="1.2" stroke-linejoin="round">
        <path d="M1091,671 L1095,671 L1070,716 L1065,716 Z"/>
        <path d="M1124,671 L1128,671 L1139,701 L1136.5,707 Z"/>
      </g>
      <!-- center dashes -->
      <g stroke="#f5f5f5" stroke-width="2" stroke-linecap="butt">
        <line x1="1237.5" y1="658" x2="1239.5" y2="662"/>
        <line x1="1241.5" y1="666" x2="1244.5" y2="672"/>
        <line x1="1247" y1="677" x2="1250.5" y2="684"/>
        <line x1="1253" y1="690" x2="1257" y2="698"/>
        <line x1="1260" y1="705" x2="1263" y2="712"/>
      </g>
    </g>
    <!-- train -->
    <g stroke="#1e1e1e" stroke-width="1.4" stroke-linejoin="round">
      <path d="M1092.5,603 Q1093,598 1100,597.5 H1118 Q1125,598 1125.5,603" fill="none" stroke-width="1.5" stroke-linecap="round"/>
      <path d="M1102,597.8 L1107.5,606.5 M1116,597.8 L1111.5,606.5" fill="none" stroke-width="1.3"/>
      <path d="M1105.5,602.5 H1113.5 L1112,607.5 H1107 Z" fill="#d4d6d9" stroke-width="1.2"/>
      <rect x="1106" y="607" width="7" height="3" fill="#9a9ea3" stroke-width="1"/>
      <path d="M1090.2,665.5 H1128.8 L1134.5,671.2 H1084.5 Z" fill="#a4a8ad"/>
      <rect x="1085" y="658.9" width="49" height="6" fill="#a4a8ad"/>
      <path d="M1082.9,659.7 V628 C 1082.9,614 1092,609.7 1109.5,609.7 C 1127,609.7 1136.2,614 1136.2,628 V659.7 Z" fill="#e47b5b" stroke-width="1.6"/>
      <rect x="1102.5" y="612.1" width="14" height="4.1" rx="1" fill="#d9dadc" stroke-width="1.1"/>
      <path d="M1089.4,622 Q1089.4,620.3 1091,620.3 H1127 Q1128.8,620.3 1128.8,622 L1128,635.1 H1090 Z" fill="#b8dde8"/>
      <circle cx="1109.1" cy="642.5" r="3" fill="#ffffff"/>
      <circle cx="1096" cy="651.5" r="2.9" fill="#ffffff"/>
      <circle cx="1122.2" cy="651.5" r="2.9" fill="#ffffff"/>
    </g>
    <g stroke="#e0836c" stroke-width="1.5" stroke-linecap="round">
      <line x1="1130.4" y1="606.4" x2="1132.1" y2="601.5"/>
      <line x1="1134.5" y1="610.5" x2="1141.9" y2="606.4"/>
      <line x1="1136.2" y1="616.2" x2="1145.2" y2="616.2"/>
      <line x1="1221.5" y1="631" x2="1223.1" y2="636.7"/>
      <line x1="1224.8" y1="639.2" x2="1232.2" y2="635.1"/>
      <line x1="1227.2" y1="645" x2="1236.3" y2="644.1"/>
      <line x1="1310" y1="594.9" x2="1311.7" y2="602.3"/>
      <line x1="1315" y1="605.6" x2="1321.6" y2="599"/>
      <line x1="1318.3" y1="610.5" x2="1326.5" y2="608"/>
    </g>
    <!-- sign -->
    <rect x="1157.6" y="573.5" width="84.2" height="49.9" rx="3.5" fill="#848a90" stroke="#1e1e1e" stroke-width="1.6"/>
    <rect x="1162.3" y="578.1" width="75.3" height="41" fill="#5d5b5b" stroke="#1e1e1e" stroke-width="1.3"/>
    <text x="1179.4" y="596" font-size="14.6" textLength="41" lengthAdjust="spacingAndGlyphs" style="fill:#f6f6f6;stroke:#f6f6f6;stroke-width:0.2px">STOP /</text>
    <text x="1168.3" y="612" font-size="14.6" textLength="63.2" lengthAdjust="spacingAndGlyphs" style="fill:#f6f6f6;stroke:#f6f6f6;stroke-width:0.2px">EVACUATE</text>
    <!-- car -->
    <g stroke="#1e1e1e" stroke-width="1.4" stroke-linejoin="round">
      <rect x="1169.2" y="678" width="10.5" height="8.8" rx="2" fill="#676b70"/>
      <rect x="1219.2" y="678" width="10.5" height="8.8" rx="2" fill="#676b70"/>
      <path d="M1166.8,653 Q1167,652 1170,652 L1178,653.5 L1178,657.5 L1169,657 Q1166.5,656 1166.8,653 Z" fill="#e47b5b"/>
      <path d="M1233,653 Q1232.8,652 1229.8,652 L1221.8,653.5 L1221.8,657.5 L1230.8,657 Q1233.3,656 1233,653 Z" fill="#e47b5b"/>
      <path d="M1170,680.2 V664 Q1170,656 1176.5,654.5 L1183.5,642.5 Q1185,640.8 1188,640.8 H1212 Q1215,640.8 1216.5,642.5 L1223.5,654.5 Q1230,656 1230,664 V680.2 Z" fill="#e47b5b" stroke-width="1.5"/>
      <path d="M1180,654 L1186.5,644 H1214 L1220,654 Z" fill="#b8dde8" stroke-width="1.2"/>
      <ellipse cx="1178.2" cy="667.1" rx="5.6" ry="2.9" fill="#f3f3f3" stroke-width="1.2"/>
      <ellipse cx="1221.2" cy="667.1" rx="5.6" ry="2.9" fill="#f3f3f3" stroke-width="1.2"/>
      <rect x="1188.7" y="667.9" width="21.3" height="5.7" rx="1.5" fill="#676b70" stroke-width="1.2"/>
    </g>
    <!-- bus -->
    <g stroke="#1e1e1e" stroke-width="1.4" stroke-linejoin="round">
      <rect x="1263.3" y="671" width="9.9" height="9.2" rx="2" fill="#676b70"/>
      <rect x="1301" y="671" width="9.9" height="9.2" rx="2" fill="#676b70"/>
      <path d="M1260,672 V616 Q1260,608 1268,608 H1307 Q1315,608 1315,616 V672 Z" fill="#f3cf7b" stroke-width="1.5"/>
      <path d="M1260,624 H1256.5 M1315,624 H1318.5" fill="none" stroke-width="1.3"/>
      <rect x="1251" y="625.3" width="5.8" height="12.3" rx="2.5" fill="#8c8f94" stroke-width="1.2"/>
      <rect x="1317.5" y="625.3" width="5.8" height="12.3" rx="2.5" fill="#8c8f94" stroke-width="1.2"/>
      <rect x="1274.8" y="611" width="24.6" height="5.2" rx="1.5" fill="#8c8f94" stroke-width="1.2"/>
      <rect x="1263.7" y="619.5" width="46.9" height="29.5" rx="2.5" fill="#b8dde8" stroke-width="1.3"/>
      <circle cx="1267.6" cy="659.2" r="3.2" fill="#ffffff" stroke-width="1.2"/>
      <circle cx="1307" cy="659.2" r="3.2" fill="#ffffff" stroke-width="1.2"/>
      <path d="M1276.5,655.6 H1297.8 M1276.5,658.9 H1297.8 M1276.5,662.2 H1297.8" fill="none" stroke-width="1.2"/>
      <rect x="1279.7" y="667.1" width="15.6" height="4.9" fill="#b8dde8" stroke-width="1.1"/>
    </g>
  </g>
  <rect x="1066" y="522" width="268" height="192" rx="9" fill="none" stroke="#383838" stroke-width="1.5"/>
  <rect x="1091.5" y="494.5" width="217" height="64.5" rx="7" fill="#fdfdfc" stroke="#383838" stroke-width="1.5"/>
  <text x="1103.5" y="526.3" font-size="25.4" textLength="193" lengthAdjust="spacingAndGlyphs">TRANSPORTATION</text>
  <text x="1150" y="550" font-size="25.4" textLength="99.5" lengthAdjust="spacingAndGlyphs">SYSTEMS</text>
</g>

</svg>
</body></html>
